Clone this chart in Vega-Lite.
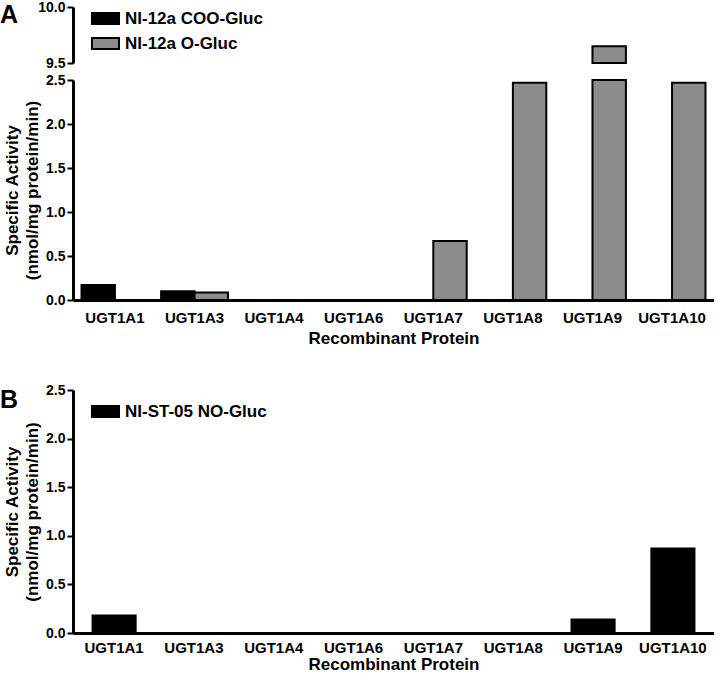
{
  "$schema": "https://vega.github.io/schema/vega-lite/v6.json",
  "padding": {"left": 0, "top": 0, "right": 0, "bottom": 0},
  "autosize": {"type": "pad"},
  "datasets": {
    "a": [
      {"protein": "UGT1A1", "series": "NI-12a COO-Gluc", "value": 0.17},
      {"protein": "UGT1A3", "series": "NI-12a COO-Gluc", "value": 0.10},
      {"protein": "UGT1A3", "series": "NI-12a O-Gluc", "value": 0.085},
      {"protein": "UGT1A7", "series": "NI-12a O-Gluc", "value": 0.67},
      {"protein": "UGT1A8", "series": "NI-12a O-Gluc", "value": 2.47},
      {"protein": "UGT1A9", "series": "NI-12a O-Gluc", "value": 9.65},
      {"protein": "UGT1A10", "series": "NI-12a O-Gluc", "value": 2.47}
    ],
    "b": [
      {"protein": "UGT1A1", "series": "NI-ST-05 NO-Gluc", "value": 0.18},
      {"protein": "UGT1A9", "series": "NI-ST-05 NO-Gluc", "value": 0.14},
      {"protein": "UGT1A10", "series": "NI-ST-05 NO-Gluc", "value": 0.87}
    ]
  },
  "spacing": 37,
  "resolve": {"scale": {"x": "independent", "y": "independent", "color": "independent"}, "legend": {"color": "independent"}},
  "vconcat": [
    {
      "width": 641,
      "height": 293,
      "title": {"text": "A", "anchor": "start", "frame": "group", "fontSize": 25, "fontWeight": "bold", "dx": -73, "offset": -28, "baseline": "top"},
      "data": {"name": "a"},
      "encoding": {
        "x": {
          "field": "protein", "type": "nominal", "sort": null,
          "scale": {"domain": ["UGT1A1", "UGT1A3", "UGT1A4", "UGT1A6", "UGT1A7", "UGT1A8", "UGT1A9", "UGT1A10"], "paddingInner": 0.16, "paddingOuter": 0.107},
          "axis": {"title": "Recombinant Protein", "labelAngle": 0, "ticks": false, "labelPadding": 10, "titlePadding": 5, "labelFontSize": 15, "labelFontWeight": "bold", "labelColor": "black", "titleFontSize": 17, "titleFontWeight": "bold"}
        },
        "xOffset": {"field": "series", "type": "nominal", "scale": {"domain": ["NI-12a COO-Gluc", "NI-12a O-Gluc"], "paddingInner": 0, "paddingOuter": 0}},
        "color": {
          "field": "series", "type": "nominal",
          "scale": {"domain": ["NI-12a COO-Gluc", "NI-12a O-Gluc"], "range": ["#000000", "#8c8c8c"]},
          "legend": {"title": null, "orient": "none", "legendX": 23, "legendY": 2}
        }
      },
      "layer": [
        {
          "mark": {"type": "bar", "stroke": "black", "strokeWidth": 2},
          "encoding": {
            "y": {
              "field": "value", "type": "quantitative",
              "scale": {"domain": [0, 2.5], "range": [293, 73], "clamp": true, "nice": false, "zero": true},
              "axis": {"orient": "left", "values": [0, 0.5, 1, 1.5, 2, 2.5], "format": ".1f", "title": ["Specific Activity", "(nmol/mg protein/min)"], "titlePadding": 4, "labelFontSize": 14, "labelFontWeight": "bold", "labelColor": "black", "titleFontSize": 17, "titleFontWeight": "bold"}
            }
          }
        },
        {
          "transform": [{"filter": "datum.value > 9.5"}],
          "mark": {"type": "bar", "stroke": "black", "strokeWidth": 2},
          "encoding": {
            "y": {
              "field": "value", "type": "quantitative",
              "scale": {"domain": [9.5, 10], "range": [56, 0], "clamp": true, "nice": false, "zero": false},
              "axis": {"orient": "left", "values": [9.5, 10], "format": ".1f", "title": null, "labelFontSize": 14, "labelFontWeight": "bold", "labelColor": "black"}
            }
          }
        }
      ],
      "resolve": {"scale": {"y": "independent"}, "axis": {"y": "independent"}}
    },
    {
      "width": 641,
      "height": 243,
      "title": {"text": "B", "anchor": "start", "frame": "group", "fontSize": 25, "fontWeight": "bold", "dx": -73, "offset": -30, "baseline": "top"},
      "data": {"name": "b"},
      "mark": {"type": "bar", "stroke": "black", "strokeWidth": 2},
      "encoding": {
        "x": {
          "field": "protein", "type": "nominal", "sort": null,
          "scale": {"domain": ["UGT1A1", "UGT1A3", "UGT1A4", "UGT1A6", "UGT1A7", "UGT1A8", "UGT1A9", "UGT1A10"], "paddingInner": 0.46, "paddingOuter": 0.245},
          "axis": {"title": "Recombinant Protein", "labelAngle": 0, "ticks": false, "labelPadding": 7, "titlePadding": 1, "labelFontSize": 15, "labelFontWeight": "bold", "labelColor": "black", "titleFontSize": 17, "titleFontWeight": "bold"}
        },
        "y": {
          "field": "value", "type": "quantitative",
          "scale": {"domain": [0, 2.5], "nice": false},
          "axis": {"values": [0, 0.5, 1, 1.5, 2, 2.5], "format": ".1f", "title": ["Specific Activity", "(nmol/mg protein/min)"], "titlePadding": 4, "labelFontSize": 14, "labelFontWeight": "bold", "labelColor": "black", "titleFontSize": 17, "titleFontWeight": "bold"}
        },
        "color": {
          "field": "series", "type": "nominal",
          "scale": {"domain": ["NI-ST-05 NO-Gluc"], "range": ["#000000"]},
          "legend": {"title": null, "orient": "none", "legendX": 23, "legendY": 12}
        }
      }
    }
  ],
  "config": {
    "font": "Liberation Sans",
    "view": {"stroke": null},
    "title": {"color": "black", "font": "Liberation Sans"},
    "axis": {
      "grid": false,
      "domainColor": "black",
      "domainWidth": 3,
      "tickColor": "black",
      "tickWidth": 2,
      "tickSize": 6,
      "labelFont": "Liberation Sans",
      "labelFontWeight": "bold",
      "labelFontSize": 14,
      "labelColor": "black",
      "labelPadding": 2,
      "titleFont": "Liberation Sans",
      "titleFontWeight": "bold",
      "titleFontSize": 17,
      "titleColor": "black",
      "titleLineHeight": 20
    },
    "legend": {
      "padding": 0,
      "labelFont": "Liberation Sans",
      "labelFontWeight": "bold",
      "labelFontSize": 17,
      "labelColor": "black",
      "labelOffset": 10,
      "symbolType": "M-1.59,-0.65H1.59V0.65H-1.59Z",
      "symbolSize": 289,
      "symbolStrokeColor": "black",
      "symbolStrokeWidth": 2,
      "symbolOpacity": 1,
      "rowPadding": 4
    }
  }
}
